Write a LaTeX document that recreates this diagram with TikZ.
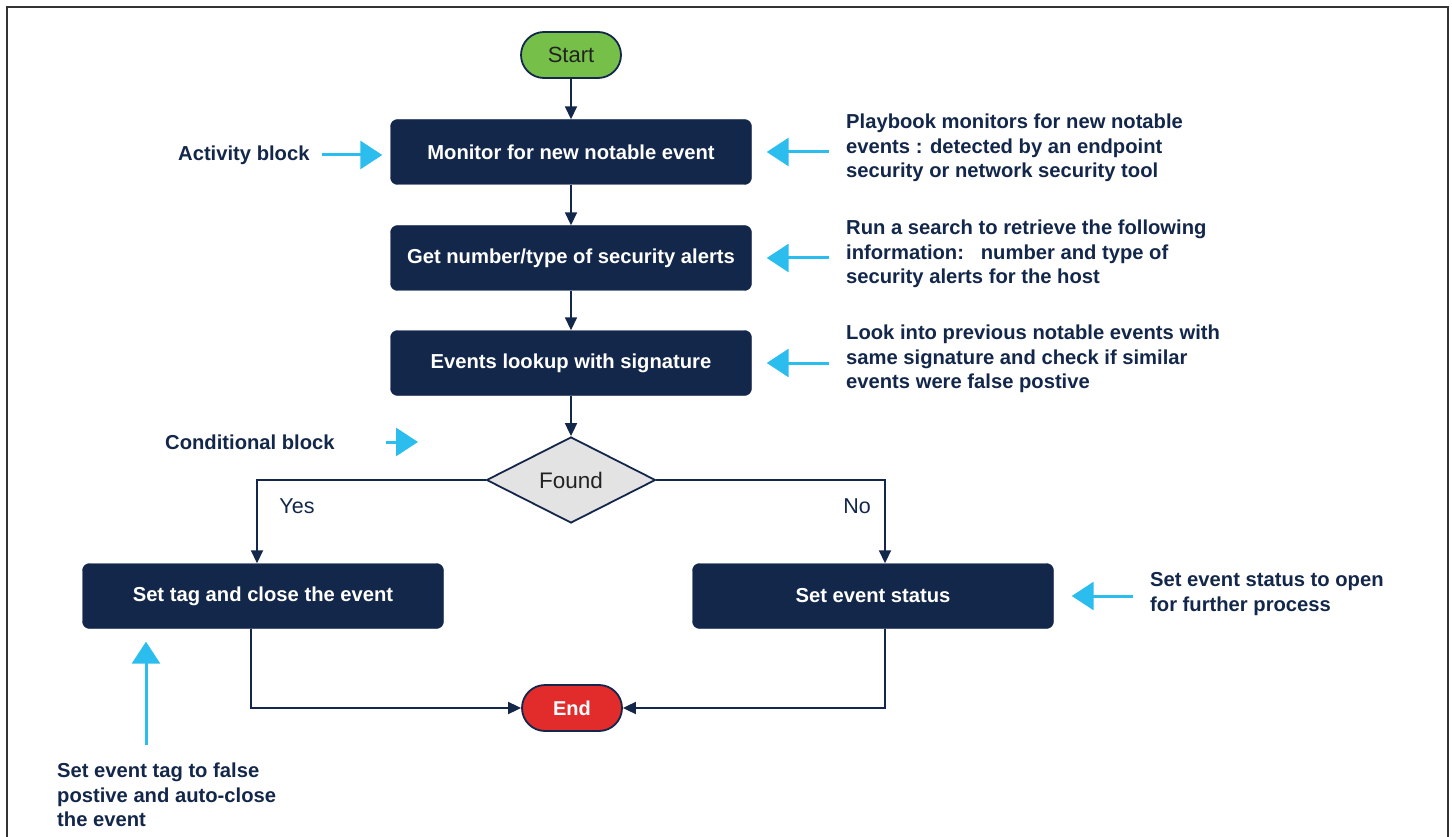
\documentclass[tikz,border=0pt]{standalone}
\usepackage{fontspec}
\setmainfont{Liberation Sans}
\usetikzlibrary{shapes.geometric,arrows.meta,positioning}
\definecolor{navy}{HTML}{13274B}
\definecolor{pointcyan}{HTML}{2BBDEE}
\definecolor{startgreen}{HTML}{76C04A}
\definecolor{endred}{HTML}{E22B2B}
\definecolor{decgray}{HTML}{E3E3E3}
\definecolor{darktext}{HTML}{222222}

\begin{document}
\begin{tikzpicture}[
    x=1pt, y=-1pt,
    block/.style={rectangle, draw=navy, fill=navy, rounded corners=7pt, minimum width=361pt, minimum height=65pt, text=white, font=\bfseries\fontsize{20.2}{24}\selectfont},
    terminal/.style={rectangle, draw=navy, line width=1.8pt, rounded corners=23pt, minimum width=100pt, minimum height=46pt, font=\fontsize{22}{26}\selectfont},
    decision/.style={diamond, draw=navy, line width=1.8pt, fill=decgray, inner sep=0pt, minimum width=169pt, minimum height=86pt, text=darktext, font=\fontsize{22.5}{26}\selectfont},
    note/.style={anchor=west, align=left, inner sep=0pt, text=navy, font=\bfseries\fontsize{20.2}{24.5}\selectfont},
    flow/.style={-{Triangle[width=12pt,length=13pt]}, draw=navy, line width=1.8pt},
    pointer/.style={-{Triangle[width=28pt,length=22pt]}, draw=pointcyan, line width=3pt}
]
    \useasboundingbox (0,0) rectangle (1452,837);

    % Frame (open at the bottom)
    \draw[line width=1.5pt, black!80] (7,837) -- (7,7) -- (1448,7) -- (1448,837);

    % Flow
    \node[terminal, fill=startgreen, text=darktext] (start) at (571,55) {Start};
    \node[block] (monitor) at (571,152) {Monitor for new notable event};
    \node[block] (getalerts) at (571,258) {Get number/type of security alerts};
    \node[block] (lookup) at (571,363) {Events lookup with signature};
    \node[decision] (found) at (571,480) {Found};
    \node[block] (settag) at (263,596) {Set tag and close the event};
    \node[block] (setstatus) at (873,596) {Set event status};
    \node[terminal, fill=endred, text=white, font=\bfseries\fontsize{20}{24}\selectfont] (finish) at (572,708) {End};

    % Branch labels
    \node[text=navy, font=\fontsize{21.5}{26}\selectfont] (yeslabel) at (297,506) {Yes};
    \node[text=navy, font=\fontsize{21.5}{26}\selectfont] (nolabel) at (857,506) {No};

    % Connections
    \draw[flow] (start) -- (monitor);
    \draw[flow] (monitor) -- (getalerts);
    \draw[flow] (getalerts) -- (lookup);
    \draw[flow] (lookup) -- (found);
    \draw[flow] (found.west) -| ([xshift=-6pt]settag.north);
    \draw[flow] (found.east) -| ([xshift=12pt]setstatus.north);
    \draw[flow] ([xshift=-12pt]settag.south) |- (finish.west);
    \draw[flow] ([xshift=12pt]setstatus.south) |- (finish.east);

    % Annotations
    \node[note] (actnote) at (178,155) {Activity block};
    \node[note] (condnote) at (165,442) {Conditional block};
    \node[note] (playnote) at (846,148) {Playbook monitors for new notable\\events : detected by an endpoint\\security or network security tool};
    \node[note] (searchnote) at (846,254) {Run a search to retrieve the following\\information:\ \ \ number and type of\\security alerts for the host};
    \node[note] (lookupnote) at (846,359) {Look into previous notable events with\\same signature and check if similar\\events were false postive};
    \node[note] (statusnote) at (1150,594) {Set event status to open\\for further process};
    \node[note] (tagnote) at (57,795) {Set event tag to false\\postive and auto-close\\the event};

    % Annotation pointers
    \coordinate (condtip) at (418,442);
    \coordinate (tagtail) at (146,745);
    \draw[pointer, shorten <=12pt, shorten >=8pt] (actnote.east) -- (actnote.east -| monitor.west);
    \draw[pointer, shorten <=51pt] (condnote.east) -- (condtip);
    \draw[pointer, shorten <=17pt, shorten >=15pt] (playnote.west |- monitor.east) -- (monitor.east);
    \draw[pointer, shorten <=17pt, shorten >=15pt] (searchnote.west |- getalerts.east) -- (getalerts.east);
    \draw[pointer, shorten <=17pt, shorten >=15pt] (lookupnote.west |- lookup.east) -- (lookup.east);
    \draw[pointer, shorten <=17pt, shorten >=18pt] (statusnote.west |- setstatus.east) -- (setstatus.east);
    \draw[pointer, shorten >=13pt] (tagtail) -- (tagtail |- settag.south);
\end{tikzpicture}
\end{document}
